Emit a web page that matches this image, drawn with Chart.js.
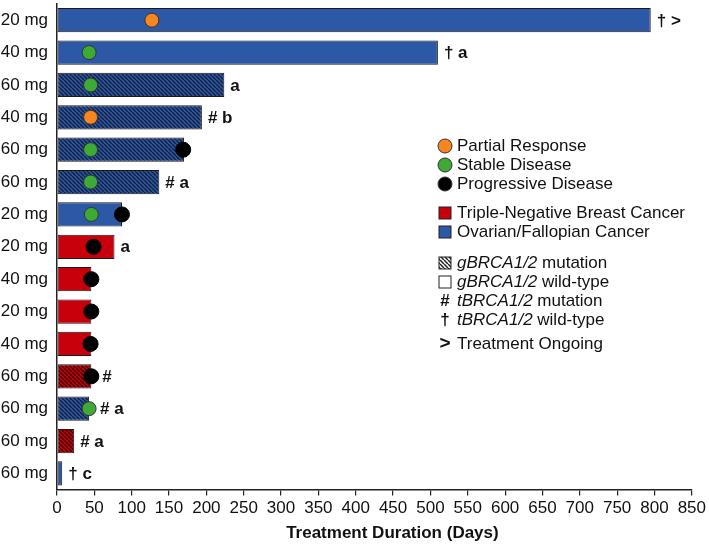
<!DOCTYPE html>
<html>
<head>
<meta charset="utf-8">
<script src="https://cdn.jsdelivr.net/npm/chart.js@4.4.1/dist/chart.umd.min.js"></script>
<style>
  body { margin: 0; background: #fff; }
  #wrap { width: 709px; height: 546px; position: relative; }
</style>
</head>
<body>
<div id="wrap"><canvas id="chart"></canvas></div>
<script>
// patient rows, top to bottom
const doses = ["20 mg", "40 mg", "60 mg", "40 mg", "60 mg", "60 mg", "20 mg", "20 mg", "40 mg", "20 mg", "40 mg", "60 mg", "60 mg", "60 mg", "60 mg"];
const durations = [795, 510, 224, 194, 170, 137, 87, 77, 46, 46, 46, 46, 43, 23, 7];
const cancerType = ["OV", "OV", "OV", "OV", "OV", "OV", "OV", "TNBC", "TNBC", "TNBC", "TNBC", "TNBC", "OV", "TNBC", "OV"];
const gMutation = [false, false, true, true, true, true, false, false, false, false, false, true, true, true, false];
const notes = ["† >", "† a", "a", "# b", "", "# a", "", "a", "", "", "", "#", "# a", "# a", "† c"];

// response markers (day of assessment, null = none)
const partialResp = [127, null, null, 45, null, null, null, null, null, null, null, null, null, null, null];
const stableDis = [null, 43, 45, null, 45, 45, 46, null, null, null, null, null, 43, null, null];
const progressive = [null, null, null, null, 169, null, 87, 49, 46, 46, 45, 46, null, null, null];

const xTicksMax = 850;
const xStep = 50;

const BLUE = "#2d58a6";
const RED = "#c8000b";

// diagonal hatch fill
function hatch(bg, line) {
  const s = 4;
  const c = document.createElement("canvas");
  c.width = s; c.height = s;
  const g = c.getContext("2d");
  g.fillStyle = bg;
  g.fillRect(0, 0, s, s);
  g.strokeStyle = line;
  g.lineWidth = 1.5;
  [-s, 0, s].forEach((x0) => {
    g.beginPath();
    g.moveTo(x0, 0);
    g.lineTo(x0 + s, s);
    g.stroke();
  });
  return g.createPattern(c, "repeat");
}

const blueHatch = hatch(BLUE, "#14203d");
const redHatch = hatch(RED, "#3a0505");

const barColors = cancerType.map((t, i) => {
  if (t === "OV") return gMutation[i] ? blueHatch : BLUE;
  return gMutation[i] ? redHatch : RED;
});

const FONT = "'Liberation Sans', Arial, sans-serif";

// annotations right of bars
const notesPlugin = {
  id: "notes",
  afterDatasetsDraw(chart) {
    const { ctx, scales } = chart;
    ctx.save();
    ctx.font = "bold 17px " + FONT;
    ctx.fillStyle = "#111";
    ctx.textBaseline = "middle";
    ctx.textAlign = "left";
    notes.forEach((n, i) => {
      if (!n) return;
      const end = durations[i];
      const marks = [partialResp[i], stableDis[i], progressive[i]];
      const dotAtEnd = marks.some((m) => m !== null && Math.abs(m - end) < 6);
      const x = scales.x.getPixelForValue(end) + (dotAtEnd ? 11 : 6);
      const y = scales.y.getPixelForValue(i);
      ctx.fillText(n, x, y + 1);
    });
    ctx.restore();
  },
};

// legend + axis title
const legendPlugin = {
  id: "sideLegend",
  afterDraw(chart) {
    const { ctx, chartArea } = chart;
    ctx.save();
    ctx.textBaseline = "middle";
    ctx.textAlign = "left";
    const sx = 445, tx = 457;

    const circle = (y, fill) => {
      ctx.beginPath();
      ctx.arc(sx, y, 7, 0, Math.PI * 2);
      ctx.fillStyle = fill;
      ctx.fill();
      ctx.lineWidth = 1;
      ctx.strokeStyle = "#333";
      ctx.stroke();
    };
    const square = (y, fill) => {
      ctx.fillStyle = fill;
      ctx.fillRect(sx - 6, y - 6, 12, 12);
      ctx.lineWidth = 1;
      ctx.strokeStyle = "#222";
      ctx.strokeRect(sx - 6, y - 6, 12, 12);
    };
    const text = (parts, y) => {
      let x = tx;
      parts.forEach(([s, style]) => {
        ctx.font = style + " 17px " + FONT;
        ctx.fillStyle = "#111";
        ctx.fillText(s, x, y);
        x += ctx.measureText(s).width;
      });
    };

    circle(146, "#f7861f"); text([["Partial Response", ""]], 146);
    circle(165, "#3daa35"); text([["Stable Disease", ""]], 165);
    circle(184, "#000"); text([["Progressive Disease", ""]], 184);
    square(213, RED); text([["Triple-Negative Breast Cancer", ""]], 213);
    square(232, BLUE); text([["Ovarian/Fallopian Cancer", ""]], 232);
    square(263, hatch("#ffffff", "#222")); text([["gBRCA1/2", "italic"], [" mutation", ""]], 263);
    square(282, "#ffffff"); text([["gBRCA1/2", "italic"], [" wild-type", ""]], 282);

    ctx.font = "bold 17px " + FONT;
    ctx.fillStyle = "#111";
    ctx.textAlign = "center";
    ctx.fillText("#", sx, 301);
    ctx.fillText("†", sx, 320);
    ctx.font = "bold 19px " + FONT;
    ctx.fillText(">", sx, 344);
    ctx.textAlign = "left";
    text([["tBRCA1/2", "italic"], [" mutation", ""]], 301);
    text([["tBRCA1/2", "italic"], [" wild-type", ""]], 320);
    text([["Treatment Ongoing", ""]], 344);

    // x axis title
    ctx.font = "bold 17px " + FONT;
    ctx.textAlign = "center";
    ctx.fillStyle = "#111";
    ctx.fillText("Treatment Duration (Days)", (chartArea.left + chartArea.right) / 2 + 18, 533);
    ctx.restore();
  },
};

const pointSet = (data, color, r) => ({
  type: "line",
  indexAxis: "y",
  data,
  showLine: false,
  pointRadius: r,
  pointHoverRadius: r,
  pointBackgroundColor: color,
  pointBorderColor: color === "#000" ? "#000" : "#333",
  pointBorderWidth: 1,
  order: 1,
});

new Chart(document.getElementById("chart"), {
  type: "bar",
  data: {
    labels: doses,
    datasets: [
      {
        data: durations,
        backgroundColor: barColors,
        borderColor: "#1a1a1a",
        borderWidth: 1,
        borderSkipped: false,
        categoryPercentage: 1,
        barPercentage: 0.75,
        order: 2,
      },
      pointSet(partialResp, "#f7861f", 7),
      pointSet(stableDis, "#3daa35", 7),
      pointSet(progressive, "#000", 7.5),
    ],
  },
  options: {
    indexAxis: "y",
    responsive: true,
    maintainAspectRatio: false,
    animation: false,
    layout: { autoPadding: false, padding: { top: 4, right: 16, bottom: 24, left: 0 } },
    plugins: { legend: { display: false }, tooltip: { enabled: false } },
    scales: {
      x: {
        min: 0,
        max: xTicksMax,
        ticks: { stepSize: xStep, color: "#111", font: { family: FONT, size: 17 }, padding: 3, maxRotation: 0 },
        grid: { drawOnChartArea: false, drawTicks: true, tickLength: 6, color: "#222", lineWidth: 1.2 },
        border: { display: true, color: "#222", width: 1.5 },
      },
      y: {
        afterFit: (scale) => {
          scale.width = 57;
          scale.paddingTop = 0;
          scale.paddingBottom = 0;
        },
        ticks: { autoSkip: false, color: "#111", font: { family: FONT, size: 17 }, padding: 9 },
        grid: { drawOnChartArea: false, drawTicks: false },
        border: { display: true, color: "#222", width: 1.5 },
      },
    },
  },
  plugins: [notesPlugin, legendPlugin],
});
</script>
</body>
</html>
